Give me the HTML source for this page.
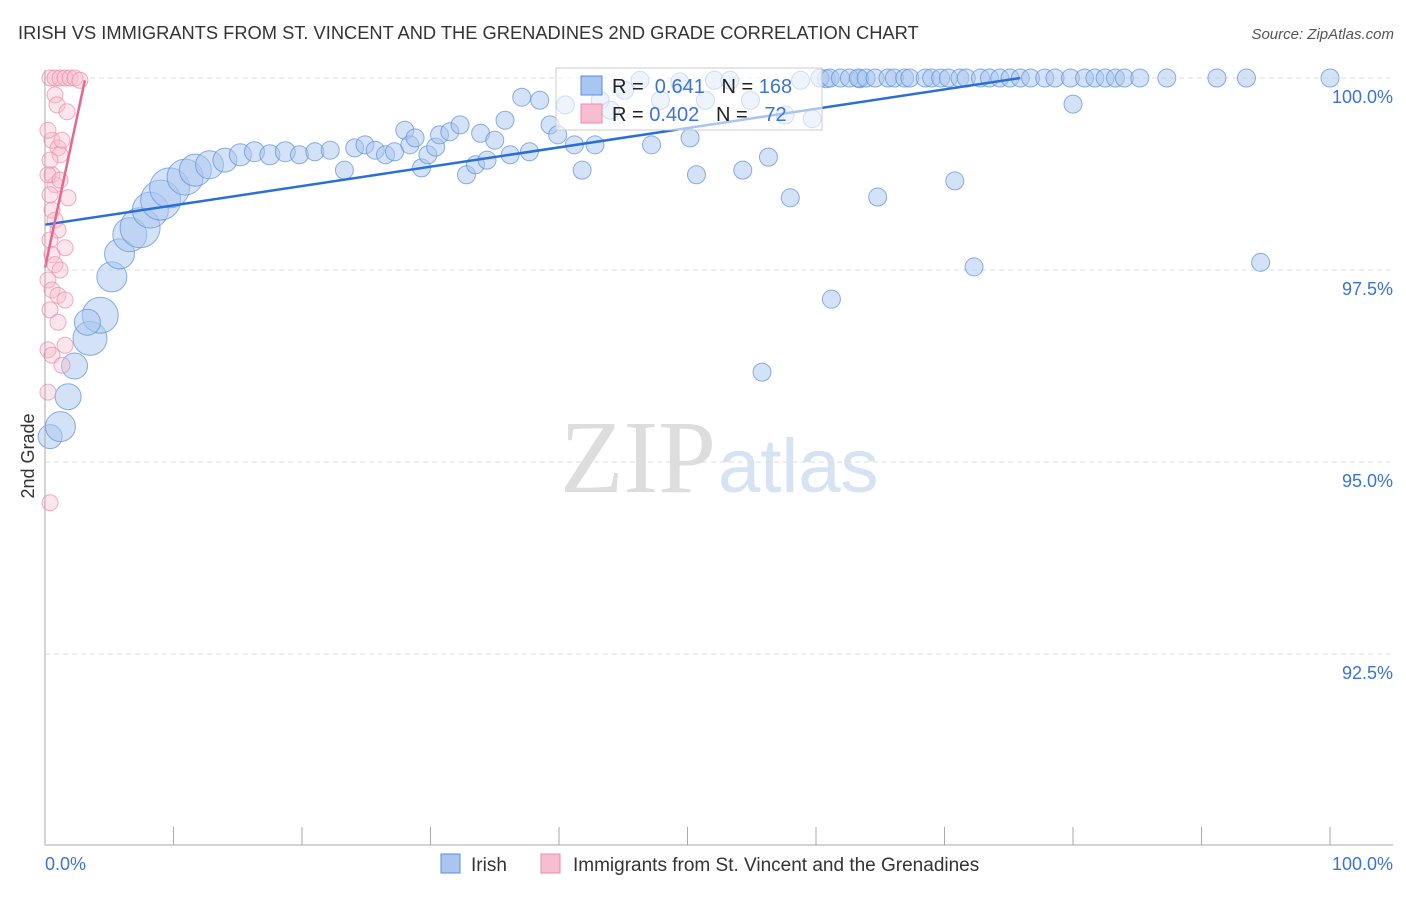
<!DOCTYPE html>
<html><head><meta charset="utf-8"><style>
body{margin:0;background:#fff;font-family:"Liberation Sans",sans-serif;}
svg text{font-family:"Liberation Sans",sans-serif;}
</style></head><body>
<svg id="c" width="1406" height="892">
<text x="18" y="39" font-size="18.3" fill="#333">IRISH VS IMMIGRANTS FROM ST. VINCENT AND THE GRENADINES 2ND GRADE CORRELATION CHART</text>
<text x="1394" y="39" font-size="15" fill="#555" text-anchor="end" font-style="italic">Source: ZipAtlas.com</text>
<text x="716" y="492" font-size="104" fill="#ddd" text-anchor="end" style="font-family:'Liberation Serif',serif">ZIP</text>
<text x="718" y="492" font-size="76" fill="#d6e3f3">atlas</text>
<g id="grid"></g><g id="pts"></g><g id="lines"></g>
<line x1="45" y1="70" x2="45" y2="845" stroke="#aaa"/>
<line x1="45" y1="845" x2="1393" y2="845" stroke="#aaa"/>
<text transform="translate(34,456) rotate(-90)" font-size="18" fill="#333" text-anchor="middle">2nd Grade</text>
<text x="45" y="870" font-size="18" fill="#3b74d3">0.0%</text>
<text x="1393" y="870" font-size="18" fill="#3b74d3" text-anchor="end">100.0%</text>
<g>
<rect x="556" y="68" width="266" height="62" fill="#fff" fill-opacity="0.6" stroke="#ccc"/>
<rect x="581" y="76" width="21" height="19" fill="#a9c6f0" stroke="#5a8fdc"/>
<rect x="581" y="104" width="21" height="19" fill="#f7bdd0" stroke="#ee8aa8"/>
<text x="612" y="93" font-size="20" fill="#222">R = <tspan fill="#3b74d3">&#160;0.641</tspan>&#160;&#160;&#160;N = <tspan fill="#3b74d3">168</tspan></text>
<text x="612" y="121" font-size="20" fill="#222">R = <tspan fill="#3b74d3">0.402</tspan>&#160;&#160;&#160;N = <tspan fill="#3b74d3">&#160;&#160;72</tspan></text>
</g>
<g>
<rect x="441" y="854" width="19" height="19" fill="#a9c6f0" stroke="#5a8fdc"/>
<text x="471" y="871" font-size="19" fill="#333">Irish</text>
<rect x="541" y="854" width="19" height="19" fill="#f7bdd0" stroke="#ee8aa8"/>
<text x="573" y="871" font-size="19" fill="#333">Immigrants from St. Vincent and the Grenadines</text>
</g>
</svg>
<script>
const yTicks=[100,97.5,95,92.5];
const yTickLabels=["100.0%","97.5%","95.0%","92.5%"];
const xTicks=[0,10,20,30,40,50,60,70,80,90,100];
const blueX=[0.4,1.2,1.8,2.3,3.5,4.3,3.3,5.2,5.8,6.6,7.4,8.2,9.0,9.7,10.9,11.7,12.8,14.0,15.2,16.3,17.5,18.7,19.8,21.0,22.2,23.3,24.1,24.9,25.7,26.5,27.2,28.0,28.4,28.8,29.3,29.8,30.4,30.7,31.5,32.3,32.8,33.5,33.9,34.4,35.0,35.8,36.2,37.1,37.7,38.5,39.3,39.9,40.5,41.2,41.8,42.8,43.2,44.0,45.1,46.3,47.2,47.9,49.4,50.2,50.7,51.4,52.1,53.3,54.3,54.9,55.8,56.3,57.6,58.0,58.8,59.7,60.8,61.2,63.4,64.8,70.8,72.3,80.0,94.6,
60.3,61.1,61.9,62.6,63.3,63.9,64.6,65.6,66.1,66.9,67.3,68.5,69.0,69.7,70.3,71.2,71.7,72.8,73.5,74.3,75.1,75.9,76.7,77.8,78.6,79.8,80.9,81.7,82.5,83.3,84.0,85.2,87.3,91.2,93.5,100];
const blueY=[95.33,95.46,95.85,96.25,96.61,96.91,96.82,97.41,97.71,97.96,98.05,98.28,98.41,98.57,98.71,98.80,98.87,98.93,99.0,99.04,99.0,99.04,99.0,99.04,99.06,98.80,99.09,99.13,99.06,99.0,99.04,99.32,99.13,99.22,98.83,99.0,99.10,99.26,99.3,99.39,98.74,98.87,99.28,98.93,99.19,99.45,99.0,99.75,99.04,99.71,99.39,99.26,99.65,99.13,98.80,99.13,99.71,99.58,99.84,99.97,99.13,99.71,99.95,99.22,98.74,99.71,99.97,99.97,98.80,99.71,96.17,98.97,99.52,98.44,99.97,99.47,99.99,97.12,99.99,98.45,98.66,97.54,99.66,97.60,
100,100,100,100,100,100,100,100,100,100,100,100,100,100,100,100,100,100,100,100,100,100,100,100,100,100,100,100,100,100,100,100,100,100,100,100];
const blueR=[12,15,13,13,17,18,13,15,15,17,20,18,20,20,18,16,14,12,11,10,10,10,9,9,9,9,9,9,9,9,9,9,9,9,9,9,9,9,9,9,9,9,9,9,9,9,9,9,9,9,9,9,9,9,9,9,9,9,9,9,9,9,9,9,9,9,9,9,9,9,9,9,9,9,9,9,9,9,9,9,9,9,9,9];
const pinkX=[0.39,0.78,1.17,1.56,1.95,2.33,2.72,0.78,0.93,1.71,0.54,1.01,1.17,0.54,0.78,0.39,1.79,0.54,0.78,1.01,0.39,1.56,0.54,0.78,1.17,0.23,0.54,1.01,1.56,0.39,1.01,0.23,0.54,1.56,1.32,0.23,0.39,0.23,1.17,0.39,0.23,1.32];
const pinkY=[100,100,100,100,100,100,99.97,99.78,99.65,99.56,99.19,99.09,99.0,98.74,98.61,98.48,98.44,98.28,98.15,98.02,97.89,97.79,97.70,97.57,97.5,97.37,97.24,97.17,97.11,96.98,96.82,96.46,96.39,96.52,96.26,95.91,94.47,98.74,98.67,98.93,99.32,99.19];
const X0=45,X1=1330,Y100=78,PX_PER=76.8;
const sx=v=>X0+(X1-X0)*v/100;
const sy=v=>Y100+(100-v)*PX_PER;
const NS="http://www.w3.org/2000/svg";
function mk(t,a,p){const e=document.createElementNS(NS,t);for(const k in a)e.setAttribute(k,a[k]);p.appendChild(e);return e;}
const grid=document.getElementById('grid'),pts=document.getElementById('pts'),lines=document.getElementById('lines');
yTicks.forEach((t,i)=>{
 const g=mk('line',{x1:45,x2:1393,y1:sy(t),y2:sy(t),stroke:'#ddd','stroke-dasharray':'5,4'},grid);
 
 
 const l=mk('text',{x:1393,y:sy(t)+25,'font-size':18,fill:'#3b74d3','text-anchor':'end'},grid);
 l.textContent=yTickLabels[i];
 
 
});
xTicks.forEach(t=>{
 const k=mk('line',{x1:sx(t),x2:sx(t),y1:827,y2:845,stroke:'#aaa'},grid);
 
 
});
blueX.forEach((x,i)=>{
 const c=mk('circle',{cx:sx(x),cy:sy(blueY[i]),r:blueR[i]||9,fill:'#a9c6f0','fill-opacity':0.5,stroke:'#5a8fdc','stroke-opacity':0.7,'stroke-width':1},pts);
 
 
});
pinkX.forEach((x,i)=>{
 const c=mk('circle',{cx:sx(x),cy:sy(pinkY[i]),r:8,fill:'#f7bdd0','fill-opacity':0.4,stroke:'#ee8aa8','stroke-opacity':0.7,'stroke-width':1},pts);
 
 
});
const bl=mk('line',{x1:sx(0),y1:sy(98.09),x2:sx(75.9),y2:sy(100),stroke:'#2a6fd6','stroke-width':2.5},lines);


const pl=mk('line',{x1:sx(0),y1:sy(97.53),x2:sx(3.1),y2:sy(99.97),stroke:'#e9668f','stroke-width':2.5},lines);


</script>
</body></html>
